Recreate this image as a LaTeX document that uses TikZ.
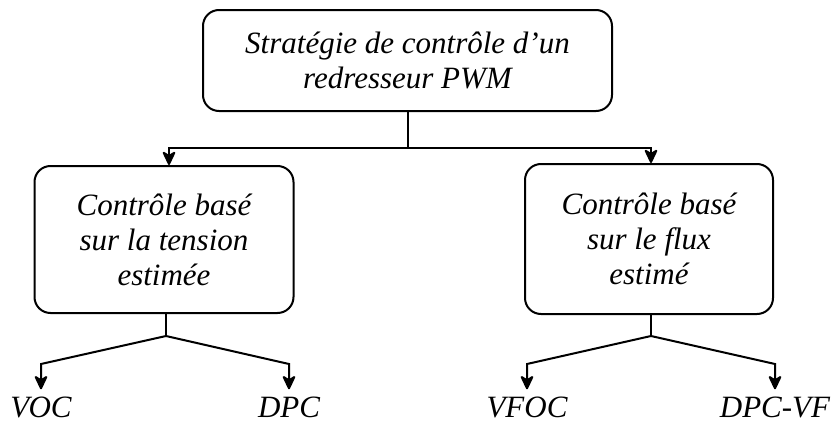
\documentclass[tikz,border=0pt]{standalone}
\usepackage{fontspec}
\setmainfont{Liberation Serif}
\usetikzlibrary{arrows.meta,calc}
\begin{document}
\begin{tikzpicture}[x=1pt,y=-1pt,
  txt/.style={font=\fontsize{31}{35}\selectfont\itshape},
  boxnode/.style={txt,draw,line width=2pt,rounded corners=16pt,align=center,inner sep=0pt},
  lbl/.style={txt,anchor=base,inner sep=0pt},
  conn/.style={line width=2pt},
  arr/.style={conn,-{Stealth[length=16pt,width=15pt,inset=4.5pt,round]}}]
\useasboundingbox (0,0) rectangle (833,423);
\node[boxnode,minimum width=409pt,minimum height=101pt] (top) at (407.5,60.5)
  {Stratégie de contrôle d’un\\redresseur PWM};
\node[boxnode,minimum width=259pt,minimum height=147pt] (lb) at (164,239.5)
  {Contrôle basé\\sur la tension\\estimée};
\node[boxnode,minimum width=248pt,minimum height=150pt] (rb) at (649,239)
  {Contrôle basé\\sur le flux\\estimé};
\node[lbl] (voc) at (41,417) {VOC};
\node[lbl] (dpc) at (289,417) {DPC};
\node[lbl] (vfoc) at (527,417) {VFOC};
\node[lbl] (dpcvf) at (775,417) {DPC-VF};
% top connectors
\coordinate (tj) at (407.5,148);
\draw[conn] (top.south) -- (tj);
\draw[arr] (tj) -| ([xshift=5pt]lb.north);
\draw[arr] (tj) -| ([xshift=2pt]rb.north);
% left branch
\coordinate (lj) at (166,336);
\coordinate (vocj) at (41,364);
\coordinate (dpcj) at (289,364);
\draw[conn] ([xshift=2pt]lb.south) -- (lj);
\draw[arr,shorten >=7pt] (lj) -- (vocj) -- (voc.north);
\draw[arr,shorten >=7pt] (lj) -- (dpcj) -- (dpc.north);
% right branch
\coordinate (rj) at (651,336);
\coordinate (vfocj) at (527,364);
\coordinate (dpcvfj) at (775,364);
\draw[conn] ([xshift=2pt]rb.south) -- (rj);
\draw[arr,shorten >=7pt] (rj) -- (vfocj) -- (vfoc.north);
\draw[arr,shorten >=7pt] (rj) -- (dpcvfj) -- (dpcvf.north);
\end{tikzpicture}
\end{document}
